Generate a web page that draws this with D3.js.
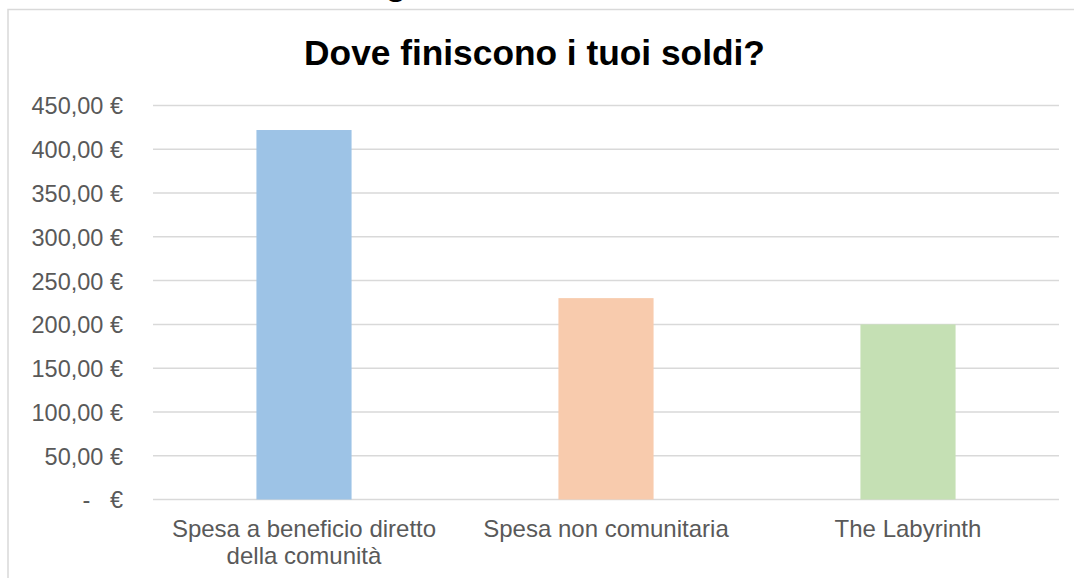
<!DOCTYPE html>
<html>
<head>
<meta charset="utf-8">
<script src="https://cdn.jsdelivr.net/npm/d3@7"></script>
<style>
  body { margin: 0; background: #fff; }
  svg { display: block; font-family: "Liberation Sans", Arial, sans-serif; }
  .tick text { white-space: pre; }
</style>
</head>
<body>
<svg id="chart" width="1074" height="578"></svg>
<script>
// Chart data
const categories = [
    ['Spesa a beneficio diretto', 'della comunità'],
    ['Spesa non comunitaria'],
    ['The Labyrinth']
];
const values = [422, 230, 200];
const barColors = ['#9dc3e6', '#f8cbad', '#c5e0b4'];
const yTicks = [0, 50, 100, 150, 200, 250, 300, 350, 400, 450];
const title = 'Dove finiscono i tuoi soldi?';

const svg = d3.select('#chart');
const plot = { left: 153, right: 1059, top: 105.5, bottom: 499.5 };

// Outer chart border (cropped by the window on the right and bottom)
svg.append('rect')
    .attr('x', 8)
    .attr('y', 9.5)
    .attr('width', 1100)
    .attr('height', 600)
    .attr('fill', 'none')
    .attr('stroke', '#d9d9d9')
    .attr('stroke-width', 1.5);

// Fragment of a heading above, cut off by the crop
svg.append('text')
    .attr('x', 396)
    .attr('y', -5)
    .attr('text-anchor', 'middle')
    .attr('font-size', '35px')
    .attr('font-weight', 'bold')
    .attr('fill', '#000')
    .text('g');

const x = d3.scaleBand()
    .domain(categories.map((d, i) => i))
    .range([plot.left, plot.right])
    .paddingInner(0.685)
    .paddingOuter(0.3425);

const y = d3.scaleLinear()
    .domain([0, 450])
    .range([plot.bottom, plot.top]);

// Gridlines
svg.append('g')
    .selectAll('line')
    .data(yTicks)
    .join('line')
    .attr('x1', plot.left)
    .attr('x2', plot.right)
    .attr('y1', d => y(d))
    .attr('y2', d => y(d))
    .attr('stroke', '#d9d9d9')
    .attr('stroke-width', 1.5);

// Y axis labels (accounting format)
const fmt = d => d === 0 ? '-   €' : d3.format('.2f')(d).replace('.', ',') + ' €';
const yAxis = svg.append('g')
    .attr('transform', `translate(${plot.left - 30},0)`)
    .call(d3.axisLeft(y).tickValues(yTicks).tickFormat(fmt).tickSize(0).tickPadding(0));
yAxis.select('.domain').remove();
yAxis.selectAll('text')
    .attr('font-family', '"Liberation Sans", Arial, sans-serif')
    .attr('font-size', '23.5px')
    .attr('fill', '#595959')
    .attr('dy', '0.36em');

// Bars
svg.append('g')
    .selectAll('rect')
    .data(values)
    .join('rect')
    .attr('x', (d, i) => x(i))
    .attr('y', d => y(d))
    .attr('width', x.bandwidth())
    .attr('height', d => y(0) - y(d))
    .attr('fill', (d, i) => barColors[i]);

// Category labels
const xLabels = svg.append('g')
    .selectAll('text')
    .data(categories)
    .join('text')
    .attr('x', (d, i) => x(i) + x.bandwidth() / 2)
    .attr('y', 537)
    .attr('text-anchor', 'middle')
    .attr('font-size', '24px')
    .attr('fill', '#595959');

xLabels.selectAll('tspan')
    .data(d => d)
    .join('tspan')
    .attr('x', function() { return d3.select(this.parentNode).attr('x'); })
    .attr('dy', (d, i) => i === 0 ? 0 : 26.5)
    .text(d => d);

// Title
svg.append('text')
    .attr('x', 534.5)
    .attr('y', 65)
    .attr('text-anchor', 'middle')
    .attr('font-size', '35.3px')
    .attr('font-weight', 'bold')
    .attr('fill', '#000')
    .text(title);
</script>
</body>
</html>
